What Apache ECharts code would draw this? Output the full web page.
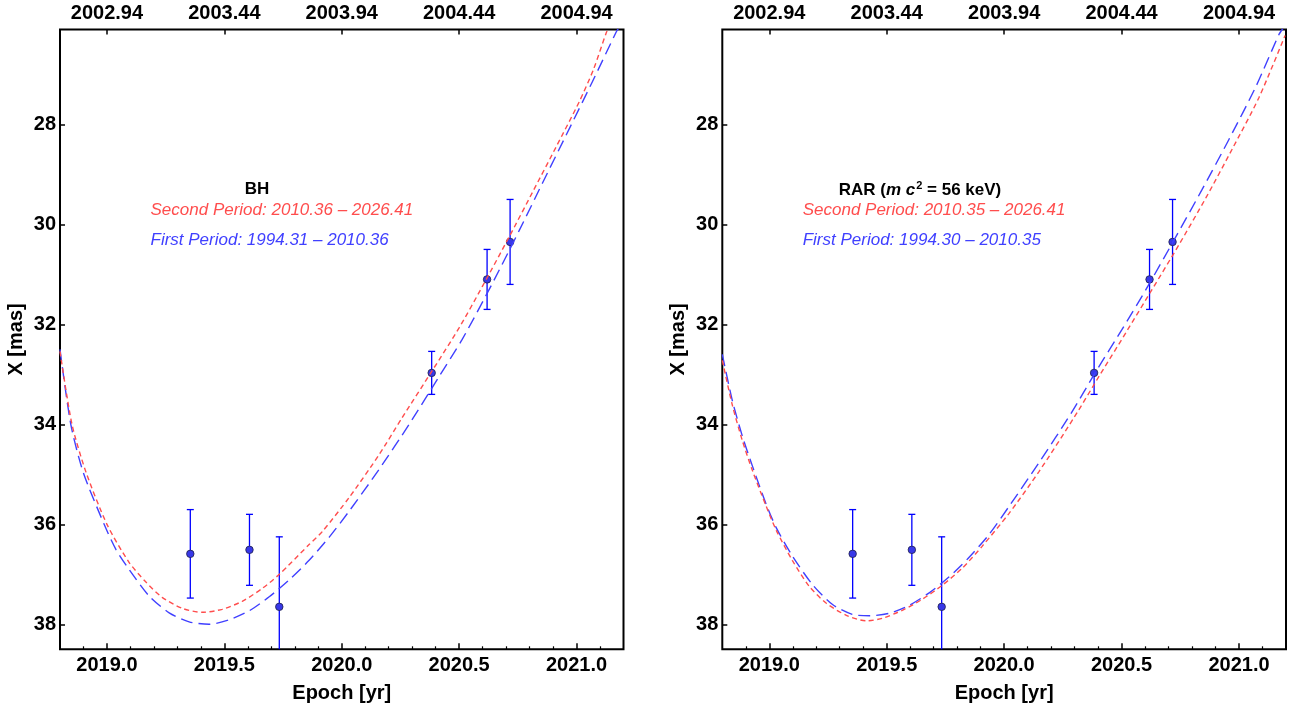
<!DOCTYPE html>
<html>
<head>
<meta charset="utf-8">
<script src="https://cdn.jsdelivr.net/npm/echarts@6/dist/echarts.min.js"></script>
<style>
  html, body { margin: 0; padding: 0; background: #fff; }
  #chart { width: 1293px; height: 710px; }
</style>
</head>
<body>
<div id="chart"></div>
<script>
// ---------------- data ----------------
const xMajorTicks = [2019.0, 2019.5, 2020.0, 2020.5, 2021.0];
const xMinorTicks = [2018.9, 2019.1, 2019.2, 2019.3, 2019.4, 2019.6, 2019.7, 2019.8, 2019.9,
                     2020.1, 2020.2, 2020.3, 2020.4, 2020.6, 2020.7, 2020.8, 2020.9, 2021.1];
const topTickLabels = ['2002.94', '2003.44', '2003.94', '2004.44', '2004.94'];
const yTicks = [28, 30, 32, 34, 36, 38];

// observations (epoch, X [mas], error)
const obsEpoch = [2019.355, 2019.607, 2019.734, 2020.383, 2020.619, 2020.717];
const obsX     = [36.59, 36.51, 37.65, 32.97, 31.10, 30.35];
const obsErr   = [0.885, 0.71, 1.40, 0.43, 0.60, 0.85];

// BH model
const bhSecondEpoch = [2018.800, 2018.851, 2018.911, 2019.000, 2019.094, 2019.167, 2019.235, 2019.320,
                       2019.405, 2019.491, 2019.576, 2019.662, 2019.734, 2019.862, 2019.918, 2020.032,
                       2020.160, 2020.258, 2020.386, 2020.501, 2020.599, 2020.714, 2020.812, 2020.914,
                       2021.012, 2021.072, 2021.127, 2021.136];
const bhSecondX     = [32.54, 34.00, 34.96, 36.00, 36.76, 37.16, 37.46, 37.68,
                       37.76, 37.70, 37.54, 37.28, 37.00, 36.40, 36.14, 35.46,
                       34.60, 33.86, 32.92, 32.06, 31.24, 30.24, 29.36, 28.44,
                       27.54, 26.90, 26.16, 26.08];
const bhFirstEpoch  = [2018.800, 2018.846, 2018.899, 2018.988, 2019.038, 2019.094, 2019.179, 2019.265,
                       2019.350, 2019.435, 2019.520, 2019.606, 2019.691, 2019.776, 2019.861, 2019.946,
                       2020.031, 2020.159, 2020.287, 2020.415, 2020.513, 2020.637, 2020.756, 2020.854,
                       2020.957, 2021.068, 2021.170, 2021.178];
const bhFirstX      = [32.50, 34.00, 34.96, 36.00, 36.50, 36.90, 37.43, 37.77,
                       37.95, 38.00, 37.91, 37.73, 37.45, 37.11, 36.72, 36.26,
                       35.74, 34.90, 34.00, 33.04, 32.30, 31.22, 30.12, 29.18,
                       28.20, 27.14, 26.14, 26.08];

// RAR model
const rarSecondEpoch = [2018.800, 2018.843, 2018.885, 2018.928, 2018.987, 2019.030, 2019.098, 2019.170,
                        2019.243, 2019.328, 2019.413, 2019.481, 2019.566, 2019.651, 2019.736, 2019.821,
                        2019.906, 2020.021, 2020.149, 2020.298, 2020.409, 2020.519, 2020.630, 2020.745,
                        2020.860, 2020.970, 2021.085, 2021.196];
const rarSecondX     = [32.72, 33.62, 34.32, 34.92, 35.64, 36.12, 36.72, 37.24,
                        37.58, 37.82, 37.93, 37.88, 37.72, 37.50, 37.22, 36.88,
                        36.44, 35.78, 34.94, 33.86, 33.00, 32.16, 31.30, 30.40,
                        29.46, 28.50, 27.46, 26.22];
const rarFirstEpoch  = [2018.800, 2018.843, 2018.885, 2018.928, 2018.987, 2019.030, 2019.098, 2019.183,
                        2019.268, 2019.353, 2019.426, 2019.511, 2019.596, 2019.681, 2019.766, 2019.851,
                        2019.936, 2020.021, 2020.149, 2020.285, 2020.391, 2020.502, 2020.604, 2020.732,
                        2020.843, 2020.957, 2021.072, 2021.170, 2021.187];
const rarFirstX      = [32.60, 33.53, 34.23, 34.83, 35.60, 36.07, 36.63, 37.20,
                        37.60, 37.80, 37.83, 37.78, 37.62, 37.37, 37.05, 36.66,
                        36.20, 35.64, 34.76, 33.78, 32.94, 32.10, 31.30, 30.24,
                        29.30, 28.30, 27.24, 26.20, 26.08];

// ---------------- chart ----------------
const FONT = '"Liberation Sans", Arial, Helvetica, sans-serif';
const RED = '#ff4d4d';
const BLUE = '#4040ff';
const zip = (a, b) => a.map((v, i) => [v, b[i]]);
const obsData = obsEpoch.map((e, i) => [e, obsX[i], obsErr[i]]);

const grids = [
  { left: 60, top: 29.5, width: 563.5, height: 619.8 },
  { left: 722.3, top: 29.5, width: 563.7, height: 619.8 }
];

const labelStyle = { fontFamily: FONT, fontWeight: 'bold', fontSize: 20, color: '#000' };
const X_MIN = 2018.8, X_MAX = 2021.2, Y_MIN = 26.1, Y_MAX = 38.5;

const xAxes = [], yAxes = [], series = [];
grids.forEach((g, gi) => {
  xAxes.push({
    type: 'value', gridIndex: gi, position: 'bottom', min: X_MIN, max: X_MAX,
    axisLine: { show: false },
    axisTick: { show: true, inside: true, length: 6, customValues: xMajorTicks,
                lineStyle: { color: '#000', width: 1.5 } },
    axisLabel: { show: true, customValues: xMajorTicks, margin: 6,
                 formatter: v => v.toFixed(1), ...labelStyle },
    splitLine: { show: false },
    name: 'Epoch [yr]', nameLocation: 'middle', nameGap: 34,
    nameTextStyle: { ...labelStyle }
  });
  xAxes.push({
    type: 'value', gridIndex: gi, position: 'bottom', min: X_MIN, max: X_MAX,
    axisLine: { show: false },
    axisTick: { show: true, inside: true, length: 3, customValues: xMinorTicks,
                lineStyle: { color: '#000', width: 1.2 } },
    axisLabel: { show: false },
    splitLine: { show: false }
  });
  xAxes.push({
    type: 'value', gridIndex: gi, position: 'top', min: X_MIN, max: X_MAX,
    axisLine: { show: false },
    axisTick: { show: true, inside: true, length: 5, customValues: xMajorTicks,
                lineStyle: { color: '#000', width: 1.5 } },
    axisLabel: { show: true, customValues: xMajorTicks, margin: 6,
                 formatter: v => topTickLabels[xMajorTicks.findIndex(t => Math.abs(t - v) < 1e-6)] || '',
                 ...labelStyle },
    splitLine: { show: false }
  });
  yAxes.push({
    type: 'value', gridIndex: gi, position: 'left', inverse: true, min: Y_MIN, max: Y_MAX,
    axisLine: { show: false },
    axisTick: { show: true, inside: true, length: 5, customValues: yTicks,
                lineStyle: { color: '#000', width: 1.5 } },
    axisLabel: { show: true, customValues: yTicks, margin: 4, formatter: v => String(v), ...labelStyle },
    splitLine: { show: false },
    name: 'X [mas]', nameLocation: 'middle', nameGap: 34,
    nameTextStyle: { ...labelStyle }
  });

  const xi = gi * 3;
  const secondData = gi === 0 ? zip(bhSecondEpoch, bhSecondX) : zip(rarSecondEpoch, rarSecondX);
  const firstData  = gi === 0 ? zip(bhFirstEpoch, bhFirstX)   : zip(rarFirstEpoch, rarFirstX);

  series.push({
    type: 'line', xAxisIndex: xi, yAxisIndex: gi, data: firstData, smooth: 0.25,
    showSymbol: false, silent: true, clip: true,
    lineStyle: { color: BLUE, width: 1.4, type: [12, 6] }
  });
  series.push({
    type: 'line', xAxisIndex: xi, yAxisIndex: gi, data: secondData, smooth: 0.25,
    showSymbol: false, silent: true, clip: true,
    lineStyle: { color: RED, width: 1.4, type: [5, 3.5] }
  });
  series.push({
    type: 'custom', xAxisIndex: xi, yAxisIndex: gi, data: obsData, silent: true,
    renderItem: (params, api) => {
      const x = api.value(0), y = api.value(1), e = api.value(2);
      const p1 = api.coord([x, y - e]);
      const p2 = api.coord([x, y + e]);
      const cs = params.coordSys;
      const yMinPx = cs.y, yMaxPx = cs.y + cs.height;
      const a = Math.max(Math.min(p1[1], p2[1]), yMinPx);
      const b = Math.min(Math.max(p1[1], p2[1]), yMaxPx);
      const st = { stroke: '#0000ff', lineWidth: 1.3 };
      const children = [{ type: 'line', shape: { x1: p1[0], y1: a, x2: p1[0], y2: b }, style: st }];
      const hw = 3.5;
      [Math.min(p1[1], p2[1]), Math.max(p1[1], p2[1])].forEach(yy => {
        if (yy >= yMinPx && yy <= yMaxPx) {
          children.push({ type: 'line', shape: { x1: p1[0] - hw, y1: yy, x2: p1[0] + hw, y2: yy }, style: st });
        }
      });
      return { type: 'group', children };
    }
  });
  series.push({
    type: 'scatter', xAxisIndex: xi, yAxisIndex: gi, data: obsData.map(d => [d[0], d[1]]),
    symbol: 'circle', symbolSize: 7.5, silent: true,
    itemStyle: { color: '#3838e8', borderColor: '#20204a', borderWidth: 0.8, opacity: 1 }
  });
});

const graphic = [
  { type: 'text', style: { x: 257, y: 189, text: 'BH', textAlign: 'center', textVerticalAlign: 'middle',
      font: 'bold 17px ' + FONT, fill: '#000' } },
  { type: 'text', style: { x: 150.5, y: 210.5, text: 'Second Period: 2010.36 \u2013 2026.41', textAlign: 'left', textVerticalAlign: 'middle',
      font: 'italic 17px ' + FONT, fill: RED } },
  { type: 'text', style: { x: 150.5, y: 240.5, text: 'First Period: 1994.31 \u2013 2010.36', textAlign: 'left', textVerticalAlign: 'middle',
      font: 'italic 17px ' + FONT, fill: BLUE } },
  { type: 'text', style: { x: 920, y: 190, text: '{b|RAR (}{i|m c}{s|2}{b| = 56 keV)}', textAlign: 'center', textVerticalAlign: 'middle',
      rich: {
        b: { font: 'bold 17px ' + FONT, fill: '#000', lineHeight: 20 },
        i: { font: 'italic bold 17px ' + FONT, fill: '#000', lineHeight: 20 },
        s: { font: 'bold 11px ' + FONT, fill: '#000', lineHeight: 12, verticalAlign: 'top', padding: [0, 0, 0, 1] }
      } } },
  { type: 'text', style: { x: 802.7, y: 210.5, text: 'Second Period: 2010.35 \u2013 2026.41', textAlign: 'left', textVerticalAlign: 'middle',
      font: 'italic 17px ' + FONT, fill: RED } },
  { type: 'text', style: { x: 802.7, y: 240.5, text: 'First Period: 1994.30 \u2013 2010.35', textAlign: 'left', textVerticalAlign: 'middle',
      font: 'italic 17px ' + FONT, fill: BLUE } }
];

const chart = echarts.init(document.getElementById('chart'), null, { renderer: 'canvas' });
chart.setOption({
  animation: false,
  backgroundColor: '#fff',
  grid: grids.map(g => ({ ...g, show: true, borderColor: '#000', borderWidth: 2, backgroundColor: 'transparent', containLabel: false })),
  xAxis: xAxes,
  yAxis: yAxes,
  series: series,
  graphic: graphic
});
</script>
</body>
</html>
